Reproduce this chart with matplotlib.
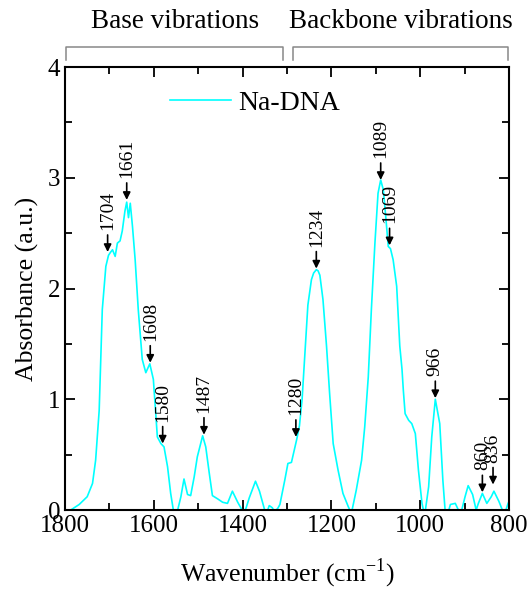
import numpy as np
import matplotlib
matplotlib.use("Agg")
import matplotlib.pyplot as plt
import matplotlib.transforms as mtransforms

plt.rcParams['font.family'] = ['Liberation Serif', 'DejaVu Serif']
plt.rcParams['mathtext.fontset'] = 'custom'
plt.rcParams['mathtext.rm'] = 'Liberation Serif'

# FTIR spectrum of Na-DNA
wavenumber = [1798, 1787, 1768, 1750, 1738, 1731, 1723, 1716, 1708, 1702,
              1697, 1693, 1687, 1682, 1676, 1671, 1665, 1661, 1657, 1653,
              1648, 1642, 1635, 1626, 1618, 1609, 1601, 1592, 1584, 1577,
              1569, 1562, 1556, 1551, 1545, 1539, 1532, 1524, 1517, 1509,
              1502, 1490, 1483, 1475, 1468, 1456, 1445, 1434, 1423, 1411,
              1404, 1398, 1392, 1385, 1371, 1362, 1351, 1346, 1340, 1333,
              1328, 1320, 1316, 1305, 1298, 1290, 1283, 1278, 1272, 1266,
              1260, 1253, 1245, 1240, 1234, 1230, 1226, 1219, 1211, 1204,
              1196, 1185, 1174, 1162, 1155, 1144, 1132, 1125, 1117, 1110,
              1102, 1095, 1089, 1083, 1077, 1072, 1067, 1061, 1053, 1046,
              1041, 1038, 1034, 1026, 1019, 1011, 1004, 996, 990, 981,
              974, 966, 956, 949, 944, 939, 932, 921, 914, 909,
              899, 892, 882, 874, 869, 860, 850, 840, 834, 823,
              815, 810, 803, 800]
absorbance = [-0.02, 0.0, 0.05, 0.12, 0.24, 0.45, 0.90, 1.81, 2.20, 2.30,
              2.33, 2.35, 2.29, 2.41, 2.43, 2.52, 2.70, 2.78, 2.64, 2.77,
              2.56, 2.26, 1.81, 1.36, 1.24, 1.32, 1.18, 0.66, 0.60, 0.57,
              0.39, 0.15, 0.0, -0.08, 0.02, 0.12, 0.28, 0.14, 0.13, 0.30,
              0.48, 0.67, 0.57, 0.33, 0.13, 0.10, 0.07, 0.06, 0.17, 0.07,
              0.02, -0.03, 0.02, 0.11, 0.26, 0.17, 0.01, -0.03, 0.04, 0.02,
              -0.02, 0.02, 0.05, 0.27, 0.42, 0.43, 0.55, 0.64, 0.76, 1.00,
              1.40, 1.85, 2.08, 2.14, 2.17, 2.16, 2.12, 1.90, 1.48, 1.05,
              0.60, 0.36, 0.15, 0.03, -0.03, 0.18, 0.45, 0.75, 1.20, 1.81,
              2.41, 2.86, 2.98, 2.89, 2.62, 2.38, 2.36, 2.26, 2.02, 1.48,
              1.27, 1.08, 0.87, 0.81, 0.78, 0.69, 0.36, 0.06, -0.05, 0.21,
              0.66, 1.00, 0.78, 0.27, 0.0, -0.05, 0.05, 0.06, 0.0, -0.04,
              0.12, 0.22, 0.14, 0.0, 0.06, 0.15, 0.06, 0.12, 0.17, 0.08,
              0.0, -0.04, 0.05, 0.08]

# labelled bands: position and height of arrow tip
peak_pos = [1704, 1661, 1608, 1580, 1487, 1280, 1234, 1089, 1069, 966, 860, 836]
peak_tip = [2.33, 2.80, 1.33, 0.60, 0.68, 0.66, 2.18, 2.98, 2.39, 1.01, 0.16, 0.23]

regions = ["Base vibrations", "Backbone vibrations"]
region_span = [(1797, 1309), (1287, 802)]

fig = plt.figure(figsize=(5.31, 5.92), dpi=100)
ax = fig.add_axes([0.1224, 0.1385, 0.8362, 0.7483])

ax.plot(wavenumber, absorbance, color='#00FFFF', lw=1.2, label='Na-DNA')

for w, a in zip(peak_pos, peak_tip):
    ax.annotate('', xy=(w, a), xytext=(0, 17), textcoords='offset pixels',
                arrowprops=dict(arrowstyle='-|>', color='black', lw=1.2,
                                mutation_scale=11, shrinkA=0, shrinkB=0))
    ax.annotate(str(w), xy=(w, a), xytext=(0, 22), textcoords='offset pixels',
                rotation=90, ha='center', va='bottom', fontsize=14)

ax.set_xlim(1800, 800)
ax.set_ylim(0, 4)
ax.set_xticks(np.arange(800, 1801, 200))
ax.set_xticks(np.arange(800, 1801, 100), minor=True)
ax.set_yticks(np.arange(0, 5, 1))
ax.set_yticks(np.arange(0, 4.1, 0.5), minor=True)
ax.tick_params(which='both', direction='in', top=True, right=True,
               labelsize=18, width=1.3)
ax.tick_params(which='major', length=7)
ax.tick_params(which='minor', length=5)
for s in ax.spines.values():
    s.set_linewidth(1.5)

ax.set_xlabel('Wavenumber (cm$^{\\mathregular{-1}}$)', fontsize=18.5, labelpad=14)
ax.set_ylabel('Absorbance (a.u.)', fontsize=18.5, labelpad=6)

ax.legend(loc='center left', bbox_to_anchor=(0.236, 0.918), frameon=False,
          fontsize=20, handlelength=2.2, handletextpad=0.25,
          borderpad=0, borderaxespad=0)

# brackets marking the spectral regions
trans = mtransforms.blended_transform_factory(ax.transData, ax.transAxes)
for name, (x0, x1) in zip(regions, region_span):
    ax.plot([x0, x0, x1, x1], [1.016, 1.046, 1.046, 1.016], color='#888888',
            lw=1.1, transform=trans, clip_on=False)
    ax.text((x0 + x1) / 2, 1.075, name, transform=trans, ha='center',
            va='bottom', fontsize=19.5)

fig.savefig('out.png', dpi=100)
